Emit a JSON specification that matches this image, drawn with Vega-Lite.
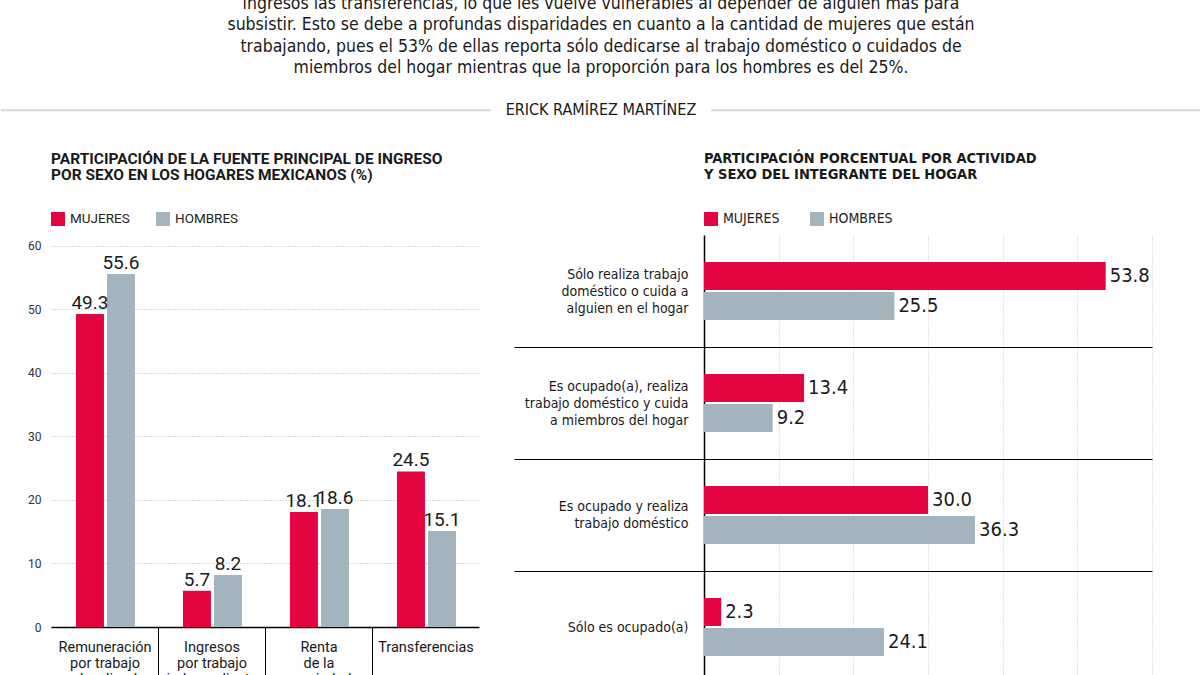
{
  "$schema": "https://vega.github.io/schema/vega-lite/v6.json",
  "background": "white",
  "padding": {"top": -6, "left": 0, "right": 0, "bottom": 0},
  "config": {
    "view": {"stroke": null},
    "font": "Roboto"
  },
  "datasets": {
    "header": [
      {"row": 0, "kind": "p", "text": "ingresos las transferencias, lo que les vuelve vulnerables al depender de alguien más para"},
      {"row": 1, "kind": "p", "text": "subsistir. Esto se debe a profundas disparidades en cuanto a la cantidad de mujeres que están"},
      {"row": 2, "kind": "p", "text": "trabajando, pues el 53% de ellas reporta sólo dedicarse al trabajo doméstico o cuidados de"},
      {"row": 3, "kind": "p", "text": "miembros del hogar mientras que la proporción para los hombres es del 25%."},
      {"row": 5, "kind": "b", "text": "ERICK RAMÍREZ MARTÍNEZ"}
    ],
    "fuente": [
      {"categoria": "Remuneración|por trabajo|subordinado", "sexo": "MUJERES", "valor": 49.3},
      {"categoria": "Remuneración|por trabajo|subordinado", "sexo": "HOMBRES", "valor": 55.6},
      {"categoria": "Ingresos|por trabajo|independiente", "sexo": "MUJERES", "valor": 5.7},
      {"categoria": "Ingresos|por trabajo|independiente", "sexo": "HOMBRES", "valor": 8.2},
      {"categoria": "Renta|de la|propiedad", "sexo": "MUJERES", "valor": 18.1},
      {"categoria": "Renta|de la|propiedad", "sexo": "HOMBRES", "valor": 18.6},
      {"categoria": "Transferencias", "sexo": "MUJERES", "valor": 24.5},
      {"categoria": "Transferencias", "sexo": "HOMBRES", "valor": 15.1}
    ],
    "actividad": [
      {"actividad": "Sólo realiza trabajo|doméstico o cuida a|alguien en el hogar", "sexo": "MUJERES", "valor": 53.8},
      {"actividad": "Sólo realiza trabajo|doméstico o cuida a|alguien en el hogar", "sexo": "HOMBRES", "valor": 25.5},
      {"actividad": "Es ocupado(a), realiza|trabajo doméstico y cuida|a miembros del hogar", "sexo": "MUJERES", "valor": 13.4},
      {"actividad": "Es ocupado(a), realiza|trabajo doméstico y cuida|a miembros del hogar", "sexo": "HOMBRES", "valor": 9.2},
      {"actividad": "Es ocupado y realiza|trabajo doméstico", "sexo": "MUJERES", "valor": 30.0},
      {"actividad": "Es ocupado y realiza|trabajo doméstico", "sexo": "HOMBRES", "valor": 36.3},
      {"actividad": "Sólo es ocupado(a)", "sexo": "MUJERES", "valor": 2.3},
      {"actividad": "Sólo es ocupado(a)", "sexo": "HOMBRES", "valor": 24.1}
    ]
  },
  "bounds": "flush",
  "spacing": 114,
  "vconcat": [
    {
      "width": 1101,
      "height": 120,
      "data": {"name": "header"},
      "layer": [
        {
          "transform": [{"filter": "datum.kind === 'p'"}],
          "mark": {"type": "text", "font": "'Liberation Sans Narrow', 'DejaVu Sans Condensed', sans-serif", "fontSize": 17.5, "color": "#1a1a1a", "baseline": "middle", "align": "center"},
          "encoding": {
            "x": {"datum": 600, "type": "quantitative", "scale": {"domain": [50, 1151], "nice": false, "zero": false}, "axis": null},
            "y": {"field": "row", "type": "quantitative", "scale": {"domain": [-0.14, 5.5], "reverse": true, "nice": false, "zero": false}, "axis": null},
            "text": {"field": "text"}
          }
        },
        {
          "data": {"values": [{}]},
          "mark": {"type": "rule", "color": "#d6d6d6", "strokeWidth": 2},
          "encoding": {"x": {"datum": 0, "type": "quantitative"}, "x2": {"datum": 490}, "y": {"datum": 5, "type": "quantitative"}}
        },
        {
          "data": {"values": [{}]},
          "mark": {"type": "rule", "color": "#d6d6d6", "strokeWidth": 2},
          "encoding": {"x": {"datum": 710, "type": "quantitative"}, "x2": {"datum": 1200}, "y": {"datum": 5, "type": "quantitative"}}
        },
        {
          "transform": [{"filter": "datum.kind === 'b'"}],
          "mark": {"type": "text", "font": "'Liberation Sans Narrow', 'DejaVu Sans Condensed', sans-serif", "fontSize": 16, "color": "#1a1a1a", "baseline": "middle", "align": "center"},
          "encoding": {
            "x": {"datum": 600, "type": "quantitative"},
            "y": {"field": "row", "type": "quantitative"},
            "text": {"field": "text"}
          }
        }
      ]
    },
    {
      "bounds": "flush",
      "spacing": 225,
      "resolve": {"scale": {"color": "independent"}, "legend": {"color": "independent"}},
      "hconcat": [
        {
          "width": 428,
          "height": 392,
          "data": {"name": "fuente"},
          "title": {
            "text": ["PARTICIPACIÓN DE LA FUENTE PRINCIPAL DE INGRESO", "POR SEXO EN LOS HOGARES MEXICANOS (%)"],
            "anchor": "start", "frame": "group", "font": "Roboto", "fontSize": 15.5, "fontWeight": "bold",
            "color": "#1a1a1a", "lineHeight": 15.5, "offset": 29
          },
          "encoding": {
            "x": {
              "field": "categoria", "type": "nominal", "sort": null,
              "scale": {"paddingInner": 0, "paddingOuter": 0},
              "axis": {
                "title": null, "domain": true, "domainColor": "#000", "domainWidth": 1.5,
                "ticks": true, "tickBand": "extent", "tickSize": 60, "tickWidth": 1,
                "tickColor": {"condition": {"test": "datum.value === 'Transferencias' || !isValid(datum.value)", "value": "transparent"}, "value": "#000"},
                "grid": false, "labelAngle": 0, "labelOverlap": false,
                "labelExpr": "split(datum.label, '|')",
                "labelFont": "Roboto", "labelFontSize": 14.5, "labelLineHeight": 16, "labelPadding": -47,
                "labelColor": "#1a1a1a", "labelBaseline": "top"
              }
            },
            "xOffset": {"field": "sexo", "type": "nominal", "scale": {"domain": ["MUJERES", "HOMBRES"], "paddingInner": 0.0968, "paddingOuter": 0.774, "align": 0.52}},
            "y": {
              "field": "valor", "type": "quantitative",
              "scale": {"domain": [0, 61.73], "nice": false},
              "axis": {
                "title": null, "values": [0, 10, 20, 30, 40, 50, 60], "domain": false, "ticks": false,
                "grid": true, "gridColor": "#b5b5b5", "gridDash": [1, 2], "gridWidth": 1,
                "labelFont": "Roboto", "labelFontSize": 12, "labelColor": "#333", "labelPadding": 10
              }
            }
          },
          "layer": [
            {
              "mark": {"type": "bar"},
              "encoding": {
                "color": {
                  "field": "sexo", "type": "nominal",
                  "scale": {"domain": ["MUJERES", "HOMBRES"], "range": ["#e3053f", "#a4b4bf"]},
                  "legend": {
                    "orient": "top", "direction": "horizontal", "title": null, "symbolType": "square",
                    "symbolSize": 196, "symbolStrokeWidth": 0, "symbolOpacity": 1,
                    "labelFont": "Roboto", "labelFontSize": 13.5, "labelColor": "#222", "labelOffset": 5,
                    "columnPadding": 26, "offset": 9, "padding": 0
                  }
                }
              }
            },
            {
              "mark": {"type": "text", "baseline": "alphabetic", "dy": -5, "font": "Roboto", "fontSize": 19, "color": "#1a1a1a"},
              "encoding": {"text": {"field": "valor", "type": "quantitative", "format": ".1f"}}
            }
          ]
        },
        {
          "width": 448,
          "height": 448,
          "data": {"name": "actividad"},
          "title": {
            "text": ["PARTICIPACIÓN PORCENTUAL POR ACTIVIDAD", "Y SEXO DEL INTEGRANTE DEL HOGAR"],
            "anchor": "start", "frame": "group", "font": "'Liberation Sans Narrow', 'DejaVu Sans Condensed', sans-serif",
            "fontSize": 14.5, "fontWeight": "bold", "color": "#1a1a1a", "lineHeight": 15.5, "offset": 30
          },
          "encoding": {
            "y": {
              "field": "actividad", "type": "nominal", "sort": null,
              "scale": {"paddingInner": 0, "paddingOuter": 0},
              "axis": {
                "title": null, "domain": true, "domainColor": "#000", "domainWidth": 1.5,
                "ticks": true, "tickBand": "extent", "tickSize": 190, "tickWidth": 1,
                "tickColor": {"condition": {"test": "datum.value === 'Sólo es ocupado(a)' || !isValid(datum.value)", "value": "transparent"}, "value": "#000"},
                "grid": true, "gridWidth": 1,
                "gridColor": {"condition": {"test": "datum.value === 'Sólo es ocupado(a)' || !isValid(datum.value)", "value": "transparent"}, "value": "#000"},
                "labelExpr": "split(datum.label, '|')",
                "labelFont": "'Liberation Sans Narrow', 'DejaVu Sans Condensed', sans-serif",
                "labelFontSize": 14, "labelLineHeight": 17, "labelPadding": -174, "labelLimit": 300,
                "labelOffset": {"condition": [
                  {"test": "length(split(datum.value, '|')) === 3", "value": -17},
                  {"test": "length(split(datum.value, '|')) === 2", "value": -8.5}
                ], "value": 0},
                "labelColor": "#1a1a1a"
              }
            },
            "yOffset": {"field": "sexo", "type": "nominal", "scale": {"domain": ["MUJERES", "HOMBRES"], "paddingInner": 0.0667, "paddingOuter": 0.9}},
            "x": {
              "field": "valor", "type": "quantitative",
              "scale": {"domain": [0, 60], "nice": false},
              "axis": {
                "title": null, "values": [10, 20, 30, 40, 50, 60], "grid": true, "gridColor": "#c8c8c8",
                "gridDash": [1, 2], "gridWidth": 1, "labels": false, "ticks": false, "domain": false
              }
            }
          },
          "layer": [
            {
              "mark": {"type": "bar"},
              "encoding": {
                "color": {
                  "field": "sexo", "type": "nominal",
                  "scale": {"domain": ["MUJERES", "HOMBRES"], "range": ["#e3053f", "#a4b4bf"]},
                  "legend": {
                    "orient": "top", "direction": "horizontal", "title": null, "symbolType": "square",
                    "symbolSize": 196, "symbolStrokeWidth": 0, "symbolOpacity": 1,
                    "labelFont": "'Liberation Sans Narrow', 'DejaVu Sans Condensed', sans-serif", "labelFontSize": 14,
                    "labelColor": "#222", "labelOffset": 5, "columnPadding": 30, "offset": 9, "padding": 0
                  }
                }
              }
            },
            {
              "mark": {"type": "text", "align": "left", "baseline": "middle", "dx": 4, "font": "'Liberation Sans Narrow', 'DejaVu Sans Condensed', sans-serif", "fontSize": 20, "color": "#1a1a1a"},
              "encoding": {"text": {"field": "valor", "type": "quantitative", "format": ".1f"}}
            }
          ]
        }
      ]
    }
  ]
}
